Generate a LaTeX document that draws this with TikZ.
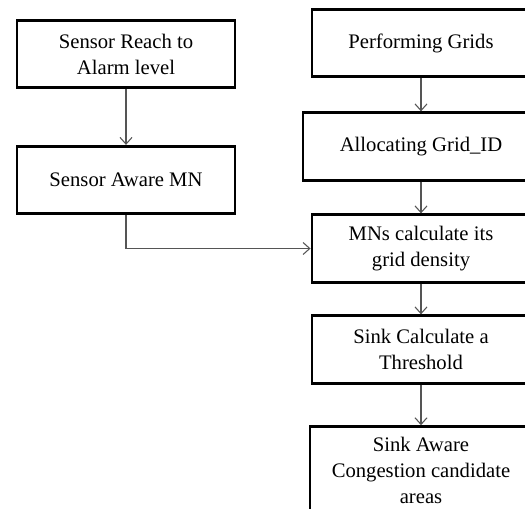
\documentclass[tikz,border=0pt]{standalone}
\usepackage{fontspec}
\setmainfont{Liberation Serif}
\usetikzlibrary{arrows.meta, positioning}
\definecolor{lineGray}{HTML}{555555}

\begin{document}
\begin{tikzpicture}[
x=0.75pt, y=-0.75pt,
box/.style={draw, line width=2.2pt, minimum width=163.5pt, minimum height=50.5pt, align=center, inner sep=2pt, font=\fontsize{15.5pt}{19.5pt}\selectfont},
arrow/.style={-{Straight Barb[length=5pt, width=9pt]}, lineGray, line width=0.8pt}
]
\useasboundingbox (0,0) rectangle (525,508);
\clip (0,0) rectangle (525,508);

% left column
\node[box] (reach) at (126,54) {Sensor Reach to\\Alarm level};
\node[box] (aware) at (126,180) {Sensor Aware MN};

% right column
\node[box] (grids) at (421,43) {Performing Grids};
\node[box, minimum width=177pt] (gridid) at (421,146.5) {Allocating Grid\_ID};
\node[box] (density) at (421,248.5) {MNs calculate its\\grid density};
\node[box] (threshold) at (421,349.5) {Sink Calculate a\\Threshold};
\node[box, minimum width=166.5pt, minimum height=65pt] (candidate) at (421,470) {Sink Aware\\Congestion candidate\\areas};

\draw[arrow] (reach) -- (aware);
\draw[arrow] (aware.south) |- (density.west);
\draw[arrow] (grids) -- (gridid);
\draw[arrow] (gridid) -- (density);
\draw[arrow] (density) -- (threshold);
\draw[arrow] (threshold) -- (candidate);
\end{tikzpicture}
\end{document}
